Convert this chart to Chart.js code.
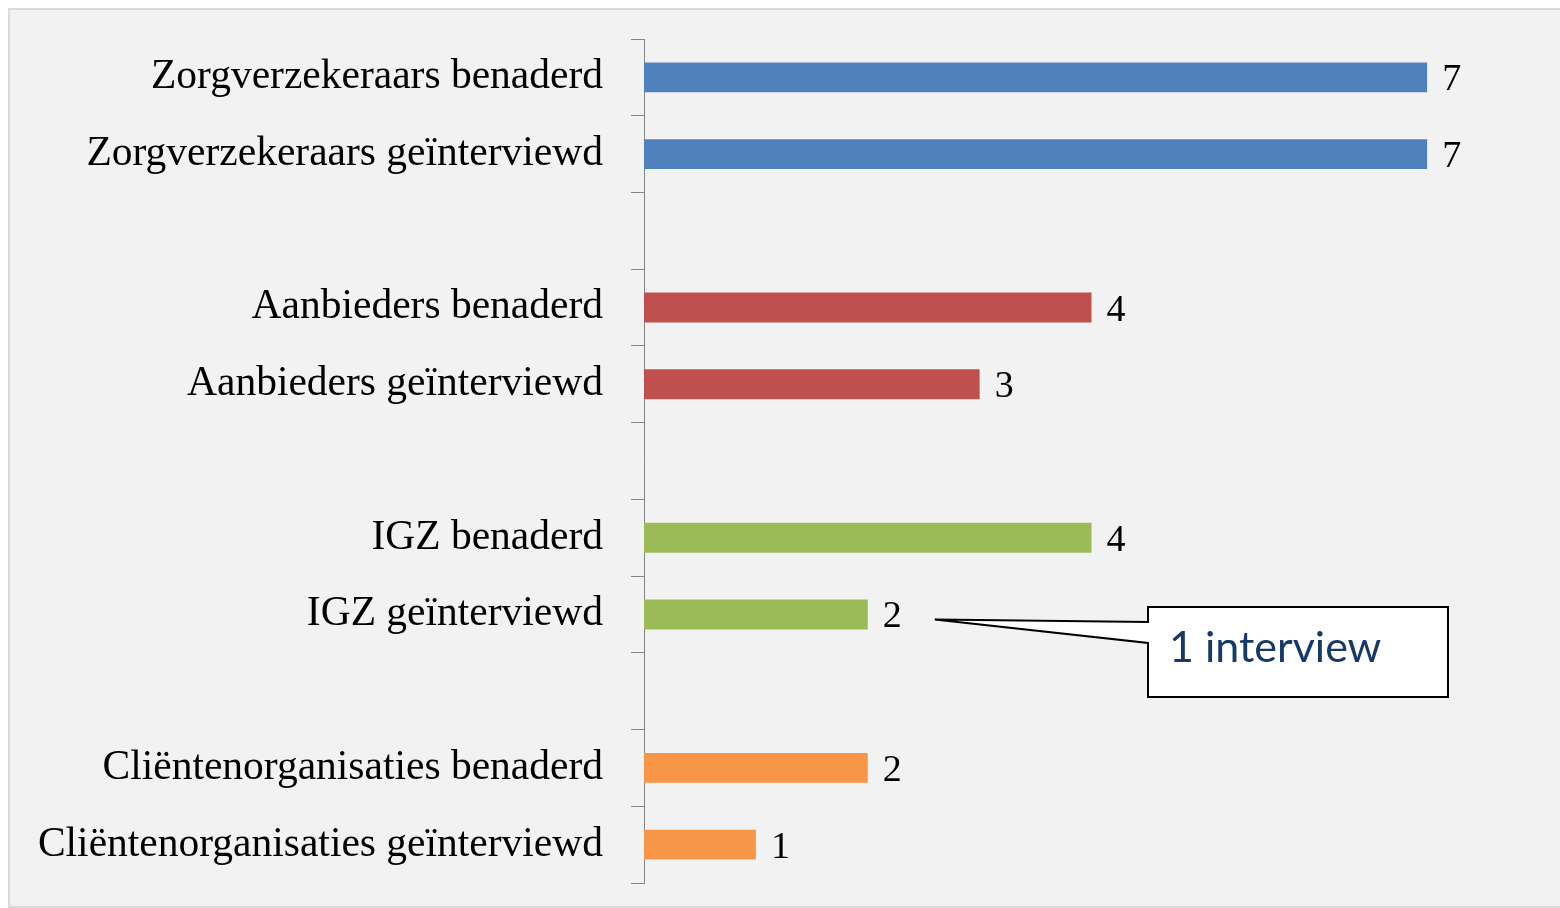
<!DOCTYPE html>
<html>
<head>
<meta charset="utf-8">
<script src="https://cdn.jsdelivr.net/npm/chart.js@4"></script>
<style>
  html, body { margin: 0; padding: 0; background: #ffffff; }
  #panel {
    position: absolute; left: 8px; top: 8px; width: 1560px; height: 896px;
    background: #f2f2f2; border: 2px solid #d9d9d9;
  }
  #wrap { position: absolute; left: 0; top: 0; width: 1560px; height: 908px; }
</style>
</head>
<body>
<div id="panel"></div>
<div id="wrap"><canvas id="chart" width="1560" height="908"></canvas></div>
<script>
// categories (empty strings are the gaps between groups)
const categories = [
    'Zorgverzekeraars benaderd', 'Zorgverzekeraars geïnterviewd', '',
    'Aanbieders benaderd', 'Aanbieders geïnterviewd', '',
    'IGZ benaderd', 'IGZ geïnterviewd', '',
    'Cliëntenorganisaties benaderd', 'Cliëntenorganisaties geïnterviewd'
];
const values = [7, 7, null, 4, 3, null, 4, 2, null, 2, 1];
const barColors = [
    '#4f81bd', '#4f81bd', null,
    '#c0504d', '#c0504d', null,
    '#9bbb59', '#9bbb59', null,
    '#f79646', '#f79646'
];
const calloutText = '1 interview';
const calloutIndex = 7; // IGZ geïnterviewd

const serif = '"Liberation Serif", serif';

// value labels next to each bar
const valueLabels = {
    id: 'valueLabels',
    afterDatasetsDraw(chart) {
        const ctx = chart.ctx;
        const meta = chart.getDatasetMeta(0);
        ctx.save();
        ctx.font = '38px ' + serif;
        ctx.fillStyle = '#000';
        ctx.textAlign = 'left';
        ctx.textBaseline = 'middle';
        meta.data.forEach((bar, i) => {
            if (values[i] === null) return;
            ctx.fillText(String(values[i]), bar.x + 15, bar.y + 3);
        });
        ctx.restore();
    }
};

// callout box pointing at the IGZ geïnterviewd label
const callout = {
    id: 'callout',
    afterDraw(chart) {
        const ctx = chart.ctx;
        const bar = chart.getDatasetMeta(0).data[calloutIndex];
        const tipX = bar.x + 67, tipY = bar.y + 5;
        const bx = 1148, by = 607, bw = 300, bh = 90;
        ctx.save();
        ctx.fillStyle = '#ffffff';
        ctx.strokeStyle = '#000000';
        ctx.lineWidth = 2;
        ctx.beginPath();
        ctx.moveTo(bx, by);
        ctx.lineTo(bx + bw, by);
        ctx.lineTo(bx + bw, by + bh);
        ctx.lineTo(bx, by + bh);
        ctx.lineTo(bx, by + 36);
        ctx.lineTo(tipX, tipY);
        ctx.lineTo(bx, by + 15);
        ctx.closePath();
        ctx.fill();
        ctx.stroke();
        ctx.fillStyle = '#173a64';
        ctx.font = '43px Lato, sans-serif';
        ctx.textBaseline = 'alphabetic';
        ctx.fillText(calloutText, bx + 21, by + 55);
        ctx.restore();
    }
};

new Chart(document.getElementById('chart'), {
    type: 'bar',
    data: {
        labels: categories,
        datasets: [{
            data: values,
            backgroundColor: barColors,
            barPercentage: 0.39,
            categoryPercentage: 1
        }]
    },
    options: {
        indexAxis: 'y',
        responsive: false,
        animation: false,
        layout: { padding: { top: 39, bottom: 25, right: 21, left: 0 } },
        plugins: { legend: { display: false }, tooltip: { enabled: false } },
        scales: {
            x: { display: false, min: 0, max: 8 },
            y: {
                afterFit(scale) {
                    scale.width = 644;
                    scale.paddingTop = 0;
                    scale.paddingBottom = 0;
                },
                grid: {
                    drawOnChartArea: false,
                    tickLength: 13,
                    color: '#868686',
                    offset: true
                },
                border: { display: true, color: '#868686', width: 1 },
                ticks: {
                    color: '#000',
                    padding: 28,
                    font: { family: serif, size: 41.5 }
                }
            }
        }
    },
    plugins: [valueLabels, callout]
});
</script>
</body>
</html>
